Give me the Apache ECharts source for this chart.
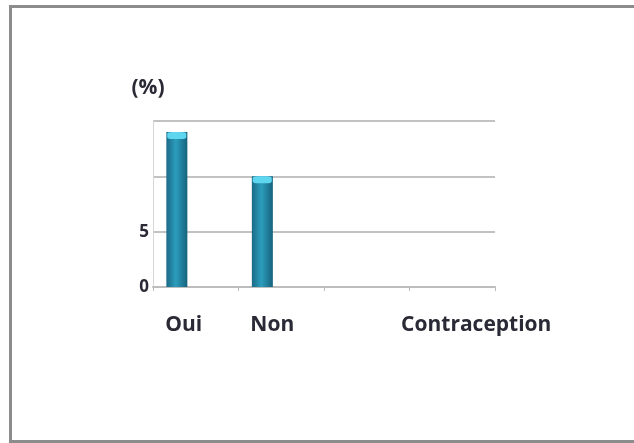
<!DOCTYPE html>
<html>
<head>
<meta charset="utf-8">
<script src="https://cdn.jsdelivr.net/npm/echarts@6/dist/echarts.min.js"></script>
<style>
  html, body { margin: 0; padding: 0; background: #fff; overflow: hidden; }
  #chart { position: absolute; left: 0; top: 0; width: 634px; height: 443px; }
  #frame {
    position: absolute; left: 9px; top: 5px; width: 625px; height: 432px;
    border: 3px solid #8c8c8c; border-right: none; pointer-events: none;
  }
</style>
</head>
<body>
<div id="chart"></div>
<div id="frame"></div>
<script>
const categories = ["Oui", "Non", "", "Contraception"];
const values = [14.0, 10.0, "-", "-"];
const emptyValues = ["-", "-", "-", "-"];
const shownTicks = [0, 5];

// horizontal shift of each category label (px), the original is not centred
const labelShift = { Oui: -12, Non: -9, Contraception: 24 };

const chart = echarts.init(document.getElementById("chart"));

const labelData = categories.map(function (c) {
  const s = labelShift[c] || 0;
  return {
    value: c,
    textStyle: { padding: s < 0 ? [0, -2 * s, 0, 0] : [0, 0, 0, 2 * s] },
  };
});

const barColor = new echarts.graphic.LinearGradient(0, 0, 1, 0, [
  { offset: 0, color: "#1a6a86" },
  { offset: 0.45, color: "#2c9dbd" },
  { offset: 1, color: "#16627c" },
]);

const option = {
  animation: false,
  grid: { left: 153, right: 139, top: 121, bottom: 156 },
  xAxis: {
    type: "category",
    data: labelData,
    boundaryGap: true,
    axisLine: { lineStyle: { color: "#bdbdbd", width: 2 } },
    axisTick: { show: true, length: 4, lineStyle: { color: "#bdbdbd" } },
    axisLabel: {
      interval: 0,
      margin: 28,
      fontFamily: "Open Sans",
      fontWeight: "bold",
      fontSize: 21,
      color: "#2a2a36",
    },
  },
  yAxis: {
    type: "value",
    min: 0,
    max: 15,
    interval: 5,
    name: "(%)",
    nameLocation: "end",
    nameGap: 22,
    nameTextStyle: {
      align: "center",
      padding: [0, 10, 0, 0],
      fontFamily: "Open Sans",
      fontWeight: "bold",
      fontSize: 21,
      color: "#2a2a36",
    },
    axisLine: { show: true, lineStyle: { color: "#d6d6d6", width: 1 } },
    axisTick: { show: false },
    axisLabel: {
      margin: 4,
      fontFamily: "Open Sans",
      fontWeight: "bold",
      fontSize: 17,
      color: "#2a2a36",
      formatter: function (v) {
        return shownTicks.indexOf(v) >= 0 ? String(v) : "";
      },
    },
    splitLine: { lineStyle: { color: "#c2c2c2", width: 2 } },
  },
  series: [
    {
      name: "Contraception",
      type: "bar",
      data: values,
      barWidth: 21,
      barGap: "80%",
      itemStyle: { color: barColor },
      z: 2,
    },
    {
      name: "vide",
      type: "bar",
      data: emptyValues,
      barWidth: 21,
    },
    {
      name: "cap",
      type: "pictorialBar",
      data: values,
      symbol: "roundRect",
      symbolSize: [19, 7],
      symbolPosition: "end",
      symbolOffset: [-19, 0],
      itemStyle: { color: "#5fd6ef" },
      z: 3,
    },
  ],
};

chart.setOption(option);
window.addEventListener("resize", function () {
  chart.resize();
});
</script>
</body>
</html>
